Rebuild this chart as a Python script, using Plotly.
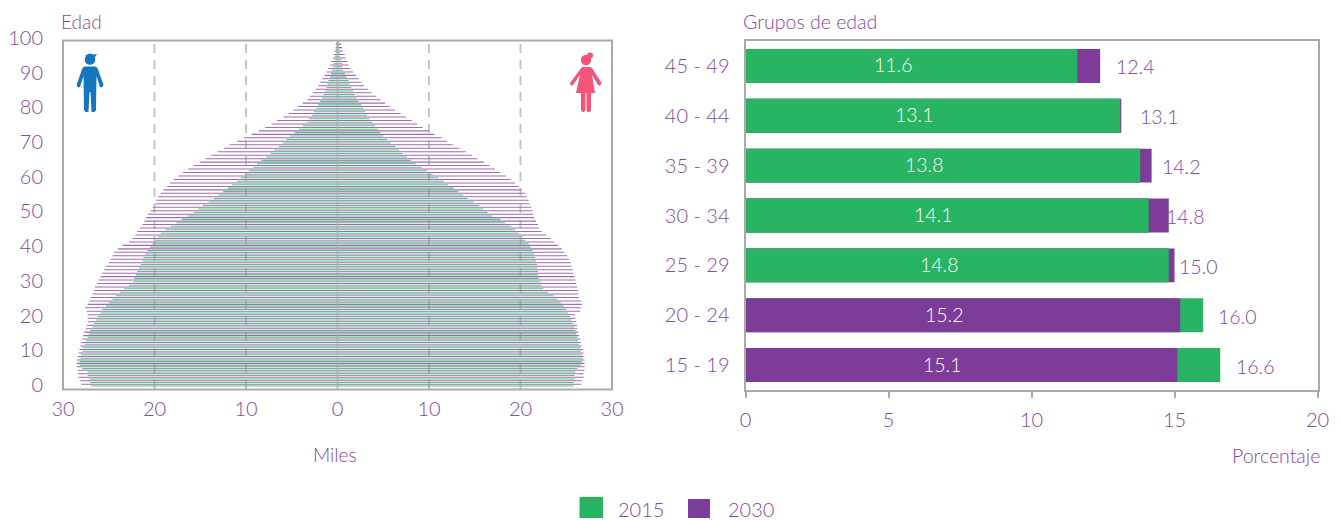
import plotly.graph_objects as go

W, H = 1340, 520
FONT = "Lato"
TXT = "#84489F"
GREEN = "#29B463"
PURPLE = "#7D3C98"
GREEN_THIN = "rgba(41,180,99,0.8)"
PURPLE_THIN = "rgba(125,60,152,0.75)"
LINE = "#A9A9A9"

ages = list(range(100))
age_ticks = list(range(0, 101, 10))
thousand_vals = [-30, -20, -10, 0, 10, 20, 30]
thousand_text = ["30", "20", "10", "0", "10", "20", "30"]

men_2030 = [
    28.0, 28.1, 28.3, 28.4, 28.4, 28.5, 28.5, 28.5, 28.4, 28.3,
    28.2, 28.1, 28.0, 27.9, 27.8, 27.7, 27.5, 27.4, 27.3, 27.3,
    27.3, 27.4, 27.6, 27.3, 27.1, 27.0, 26.8, 26.6, 26.5, 26.3,
    26.1, 25.9, 25.7, 25.5, 25.3, 25.0, 24.8, 24.6, 24.4, 24.0,
    23.5, 22.8, 22.4, 22.1, 21.9, 21.6, 21.3, 21.1, 20.9, 20.7,
    20.4, 20.2, 19.9, 19.8, 19.6, 19.3, 19.0, 18.6, 18.3, 17.9,
    17.4, 16.9, 16.3, 15.7, 15.0, 14.4, 13.8, 13.1, 12.4, 11.8,
    11.0, 10.2, 9.4, 8.6, 7.9, 7.2, 6.6, 5.9, 5.3, 4.8,
    4.3, 3.8, 3.3, 3.0, 2.7, 2.4, 2.1, 1.9, 1.7, 1.4,
    1.2, 1.0, 0.8, 0.7, 0.5, 0.4, 0.3, 0.2, 0.2, 0.1,
]
men_2015 = [
    26.9, 27.0, 27.1, 27.3, 27.3, 27.9, 28.2, 28.2, 28.1, 28.0,
    27.9, 27.8, 27.6, 27.5, 27.3, 27.2, 27.0, 26.8, 26.6, 26.4,
    26.2, 25.9, 25.7, 25.3, 25.0, 24.6, 24.2, 23.8, 23.3, 22.8,
    22.3, 22.2, 22.0, 21.9, 21.7, 21.5, 21.3, 21.2, 21.0, 20.8,
    20.5, 20.2, 19.9, 19.6, 19.3, 18.8, 18.2, 17.6, 17.0, 16.4,
    15.7, 15.2, 14.7, 14.1, 13.5, 13.0, 12.5, 12.0, 11.5, 11.0,
    10.6, 10.1, 9.7, 9.2, 8.8, 8.3, 7.8, 7.3, 6.9, 6.4,
    6.0, 5.6, 5.2, 4.7, 4.2, 3.8, 3.3, 3.1, 2.8, 2.6,
    2.3, 2.1, 1.9, 1.7, 1.5, 1.4, 1.2, 1.1, 1.0, 0.8,
    0.7, 0.6, 0.5, 0.4, 0.3, 0.3, 0.2, 0.2, 0.1, 0.1,
]
women_2030 = [
    26.6, 26.7, 26.9, 26.9, 27.0, 27.0, 27.0, 27.0, 26.9, 26.9,
    26.8, 26.7, 26.6, 26.5, 26.4, 26.3, 26.2, 26.2, 26.1, 26.0,
    26.0, 26.5, 26.6, 26.7, 26.6, 26.4, 26.3, 26.3, 26.2, 26.1,
    26.0, 25.9, 25.8, 25.7, 25.6, 25.5, 25.3, 25.1, 24.8, 24.5,
    24.1, 23.7, 23.3, 22.8, 22.3, 22.0, 21.9, 21.7, 21.5, 21.4,
    21.3, 21.2, 21.0, 20.9, 20.7, 20.5, 20.1, 19.8, 19.4, 18.9,
    18.4, 17.8, 17.2, 16.6, 16.0, 15.3, 14.7, 14.0, 13.3, 12.6,
    12.0, 11.4, 10.6, 10.0, 9.3, 8.7, 8.1, 7.5, 6.9, 6.3,
    5.7, 5.2, 4.7, 4.2, 3.7, 3.3, 2.9, 2.6, 2.3, 2.0,
    1.7, 1.4, 1.2, 1.1, 0.9, 0.8, 0.6, 0.5, 0.4, 0.3,
]
women_2015 = [
    25.8, 25.8, 25.9, 25.9, 26.0, 26.2, 26.6, 26.7, 26.8, 26.7,
    26.6, 26.5, 26.4, 26.3, 26.2, 26.1, 26.0, 25.9, 25.7, 25.6,
    25.4, 25.2, 25.0, 24.7, 24.4, 24.0, 23.6, 23.0, 22.5, 22.3,
    22.2, 22.0, 21.9, 21.9, 21.8, 21.8, 21.7, 21.6, 21.5, 21.3,
    21.1, 20.9, 20.5, 20.2, 19.8, 19.4, 19.0, 18.3, 17.8, 16.9,
    16.4, 15.9, 15.5, 14.9, 14.2, 13.7, 13.2, 12.7, 12.1, 11.6,
    11.0, 10.4, 9.8, 9.2, 8.6, 8.0, 7.6, 7.1, 6.7, 6.3,
    5.8, 5.4, 5.0, 4.7, 4.4, 4.1, 3.8, 3.5, 3.2, 3.0,
    2.8, 2.6, 2.3, 2.1, 1.9, 1.7, 1.5, 1.3, 1.2, 1.0,
    0.8, 0.6, 0.5, 0.5, 0.4, 0.3, 0.3, 0.2, 0.2, 0.1,
]

groups = ["45 - 49", "40 - 44", "35 - 39", "30 - 34", "25 - 29", "20 - 24", "15 - 19"]
pct_2015 = [11.6, 13.1, 13.8, 14.1, 14.8, 16.0, 16.6]
pct_2030 = [12.4, 13.14, 14.2, 14.8, 15.0, 15.2, 15.1]


def X(p):
    return p / W


def Y(p):
    return 1 - p / H


def poly(points):
    return "M" + " L".join(f"{X(a):.5f},{Y(b):.5f}" for a, b in points) + " Z"


def circle(cx, cy, r, color):
    return dict(type="circle", xref="paper", yref="paper", x0=X(cx - r), x1=X(cx + r),
                y0=Y(cy + r), y1=Y(cy - r), fillcolor=color, line_width=0, layer="above")


fig = go.Figure()
half = 0.3
for vals, sign, col, off, name in [
    (men_2015, -1, GREEN_THIN, -0.42, "2015 H"),
    (men_2030, -1, PURPLE_THIN, 0.08, "2030 H"),
    (women_2015, 1, GREEN_THIN, -0.42, "2015 M"),
    (women_2030, 1, PURPLE_THIN, 0.08, "2030 M"),
]:
    fig.add_trace(go.Bar(
        x=[sign * v for v in vals], y=ages, orientation="h", width=half, offset=off,
        marker=dict(color=col, line_width=0), name=name,
        xaxis="x", yaxis="y", showlegend=False, hoverinfo="x+y"))

# right chart: the longer bar of each group stays behind the shorter one
fig.add_trace(go.Bar(x=pct_2015, y=groups, orientation="h", width=0.68,
                     marker=dict(color=GREEN, line_width=0), name="2015",
                     xaxis="x2", yaxis="y2", showlegend=False))
fig.add_trace(go.Bar(x=pct_2030, y=groups, orientation="h", width=0.68,
                     marker=dict(color=PURPLE, line_width=0), name="2030",
                     xaxis="x2", yaxis="y2", showlegend=False))
fig.add_trace(go.Bar(x=[a if a < b else None for a, b in zip(pct_2015, pct_2030)], y=groups,
                     orientation="h", width=0.68, marker=dict(color=GREEN, line_width=0),
                     name="2015", xaxis="x2", yaxis="y2", showlegend=False))

shapes = []
shapes.append(dict(type="rect", xref="paper", yref="paper", x0=X(63), x1=X(612), y0=Y(389.5), y1=Y(40.5),
                   line=dict(color=LINE, width=2), layer="above"))
for v in [-20, -10, 10, 20]:
    shapes.append(dict(type="line", xref="x", yref="paper", x0=v, x1=v, y0=Y(389), y1=Y(41),
                       line=dict(color="rgba(140,140,140,0.5)", width=2, dash="9px,7px"), layer="above"))
shapes.append(dict(type="line", xref="x", yref="paper", x0=0, x1=0, y0=Y(389), y1=Y(41),
                   line=dict(color="rgba(170,170,170,0.65)", width=2), layer="above"))

# icons
BLUE, PINK = "#1277BE", "#F2557A"
shapes.append(circle(90, 59.5, 5.3, BLUE))
shapes.append(dict(type="path", xref="paper", yref="paper", fillcolor=BLUE, line_width=0, layer="above",
                   path=poly([(85, 56), (89, 53.5), (94, 54.5), (97, 54), (95, 57), (92, 57)])))
shapes.append(dict(type="path", xref="paper", yref="paper", fillcolor=BLUE, line_width=0, layer="above",
                   path=poly([(84.5, 66.5), (95.5, 66.5), (97.5, 68), (103.5, 85), (102, 87.5), (100, 87),
                              (96.5, 76), (96, 110), (94.5, 112), (91.5, 112), (90.5, 92), (89.5, 92),
                              (88.5, 112), (85.5, 112), (84, 110), (83.5, 76), (80, 87), (78, 87.5),
                              (76.5, 85), (82.5, 68)])))
shapes.append(circle(586, 60, 5.2, PINK))
shapes.append(circle(590, 55.5, 3, PINK))
shapes.append(dict(type="path", xref="paper", yref="paper", fillcolor=PINK, line_width=0, layer="above",
                   path=poly([(582, 67), (590, 67), (592, 68), (601.5, 83), (600, 86), (598, 85), (592, 75),
                              (595, 93), (591, 93), (591, 110), (590, 112), (587.5, 112), (586.5, 110),
                              (586.5, 93), (585.5, 93), (585.5, 110), (584, 112), (582.5, 112), (581, 110),
                              (581, 93), (576, 93), (580, 75), (573, 85), (571, 86), (570, 83)])))

# legend swatches
shapes.append(dict(type="rect", xref="paper", yref="paper", x0=X(579.5), x1=X(603), y0=Y(518), y1=Y(497),
                   fillcolor=GREEN, line_width=0))
shapes.append(dict(type="rect", xref="paper", yref="paper", x0=X(688), x1=X(710), y0=Y(518), y1=Y(499),
                   fillcolor=PURPLE, line_width=0))

ann = []


def note(text, px, py, size=18, color=TXT, anchor="center"):
    ann.append(dict(text=text, xref="paper", yref="paper", x=X(px), y=Y(py), xanchor=anchor, yanchor="middle",
                    showarrow=False, font=dict(family=FONT, size=size, color=color, weight=300)))


note("Edad", 59, 22, 19, anchor="left")
note("Miles", 335, 454, 19)
note("Grupos de edad", 741, 22, 19.5, anchor="left")
note("Porcentaje", 1322, 455, 19.5, anchor="right")
note("2015", 640.5, 508.5, 20)
note("2030", 751.5, 508.5, 20)

inner_label_x = [5.15, 5.9, 6.25, 6.55, 6.75, 6.95, 6.88]
outer_label_x = [13.62, 14.45, 15.23, 15.35, 15.82, 17.2, 17.82]
for g, a, b, ix, ox in zip(groups, pct_2015, pct_2030, inner_label_x, outer_label_x):
    lo, hi = min(a, b), max(a, b)
    ann.append(dict(text=f"{lo:.1f}", xref="x2", yref="y2", x=ix, y=g, showarrow=False, yshift=1,
                    font=dict(family=FONT, size=19.5, color="white", weight=300)))
    ann.append(dict(text=f"{hi:.1f}", xref="x2", yref="y2", x=ox, y=g, showarrow=False, yshift=-1,
                    font=dict(family=FONT, size=19.5, color=TXT, weight=300)))

tickfont = dict(family=FONT, size=20, color=TXT, weight=300)
fig.update_layout(
    width=W, height=H, margin=dict(l=0, r=0, t=0, b=0, autoexpand=False), paper_bgcolor="white",
    plot_bgcolor="white",
    barmode="overlay", showlegend=False, shapes=shapes, annotations=ann, font=dict(family=FONT, color=TXT),
    xaxis=dict(domain=[X(63), X(612)], range=[-30, 30], anchor="y", tickmode="array", tickvals=thousand_vals,
               ticktext=thousand_text, tickfont=tickfont, showgrid=False, zeroline=False, showline=False,
               ticks="", ticklabelstandoff=5),
    yaxis=dict(domain=[Y(389.5), Y(38)], range=[-1.3, 100], anchor="x", tickmode="array", tickvals=age_ticks,
               tickfont=tickfont, showgrid=False, zeroline=False, showline=False, ticks="",
               ticklabelstandoff=19),
    xaxis2=dict(domain=[X(745.5), X(1317.5)], range=[0, 20], anchor="y2", tickvals=[0, 5, 10, 15, 20],
                tickfont=tickfont, showgrid=False, zeroline=False, showline=True, mirror=True, linecolor=LINE,
                linewidth=2, ticks="outside", ticklen=6, tickcolor=LINE, tickwidth=1.5, ticklabelstandoff=5),
    yaxis2=dict(domain=[Y(390), Y(41)], anchor="x2", autorange=False, range=[6.5, -0.5], type="category",
                categoryorder="array", categoryarray=groups, tickfont=tickfont, showgrid=False, zeroline=False,
                showline=True, mirror=True, linecolor=LINE, linewidth=2, ticks="", ticklabelstandoff=10),
)

fig.write_html("out.html", config={"displayModeBar": False}, post_script="document.body.style.margin='0';")
